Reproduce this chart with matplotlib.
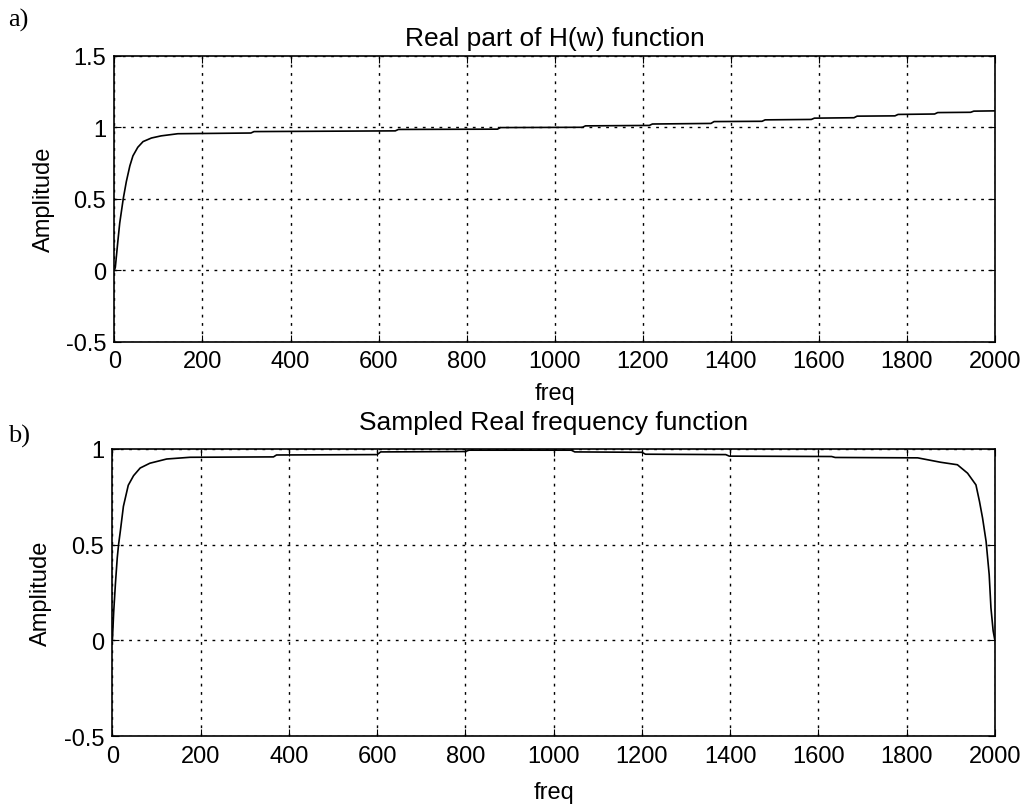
import matplotlib
matplotlib.use("Agg")
import matplotlib.pyplot as plt

# a) parte reale di H(w)
freq_a = [0, 2, 8, 12, 20, 27, 35, 42, 53, 65, 84, 106, 144, 310, 317,
          638, 645, 870, 877, 1063, 1070, 1215, 1222, 1355, 1362, 1471, 1478,
          1583, 1590, 1680, 1687, 1773, 1780, 1863, 1870, 1945, 1952, 2000]
amp_a = [0, 0.02, 0.21, 0.33, 0.50, 0.62, 0.73, 0.80, 0.86, 0.90, 0.925, 0.94, 0.955, 0.96, 0.97,
         0.975, 0.985, 0.987, 0.998, 1.0, 1.01, 1.013, 1.023, 1.027, 1.04, 1.042, 1.052,
         1.055, 1.064, 1.067, 1.078, 1.08, 1.09, 1.093, 1.103, 1.105, 1.113, 1.115]

# b) funzione campionata
freq_b = [0, 3, 7, 11, 14, 18, 25, 36, 48, 63, 85, 123, 176, 365, 372,
          600, 608, 800, 808, 1040, 1048, 1200, 1208, 1390, 1398, 1630, 1638,
          1825, 1877, 1915, 1938, 1957, 1965, 1972, 1980, 1987, 1991, 1996, 2000]
amp_b = [0, 0.15, 0.30, 0.43, 0.50, 0.57, 0.70, 0.81, 0.86, 0.90, 0.925, 0.947, 0.956, 0.958, 0.968,
         0.97, 0.984, 0.986, 0.993, 0.993, 0.984, 0.982, 0.972, 0.97, 0.962, 0.96, 0.955,
         0.953, 0.93, 0.917, 0.873, 0.812, 0.726, 0.639, 0.517, 0.344, 0.17, 0.05, 0]

xticks = list(range(0, 2001, 200))

plt.rcParams['font.family'] = ['Liberation Sans', 'DejaVu Sans']

fig = plt.figure(figsize=(10.31, 8.12), dpi=100)
ax1 = fig.add_axes([0.111, 0.578, 0.854, 0.352])
ax2 = fig.add_axes([0.109, 0.092, 0.856, 0.354])

grid_style = dict(color="black", linestyle=(0, (2, 4)), linewidth=1.0)

def style_axes(ax, x, y, yticks, ylim, title, title_pad, xlabel_pad):
    ax.plot(x, y, color="black", linewidth=1.2)
    ax.set_xlim(0, 2000)
    ax.set_ylim(*ylim)
    ax.set_xticks(xticks)
    ax.set_yticks(yticks)
    ax.set_yticklabels([f"{t:g}" for t in yticks])
    ax.grid(True, **grid_style)
    ax.tick_params(direction="in", length=5, labelsize=17, top=True, right=True, pad=6)
    for s in ax.spines.values():
        s.set_linewidth(1.2)
    ax.set_xlabel("freq", fontsize=17, labelpad=xlabel_pad)
    ax.set_ylabel("Amplitude", fontsize=17, labelpad=8)
    ax.set_title(title, fontsize=19, pad=title_pad)

style_axes(ax1, freq_a, amp_a, [-0.5, 0, 0.5, 1, 1.5], (-0.5, 1.5),
           "Real part of H(w) function", 8, 7)
style_axes(ax2, freq_b, amp_b, [-0.5, 0, 0.5, 1], (-0.5, 1.0),
           "Sampled Real frequency function", 14, 10)

fig.text(0.008, 0.975, "a)", fontsize=19, family="Liberation Serif", va="center")
fig.text(0.008, 0.462, "b)", fontsize=19, family="Liberation Serif", va="center")

fig.savefig("out.png", dpi=100)
